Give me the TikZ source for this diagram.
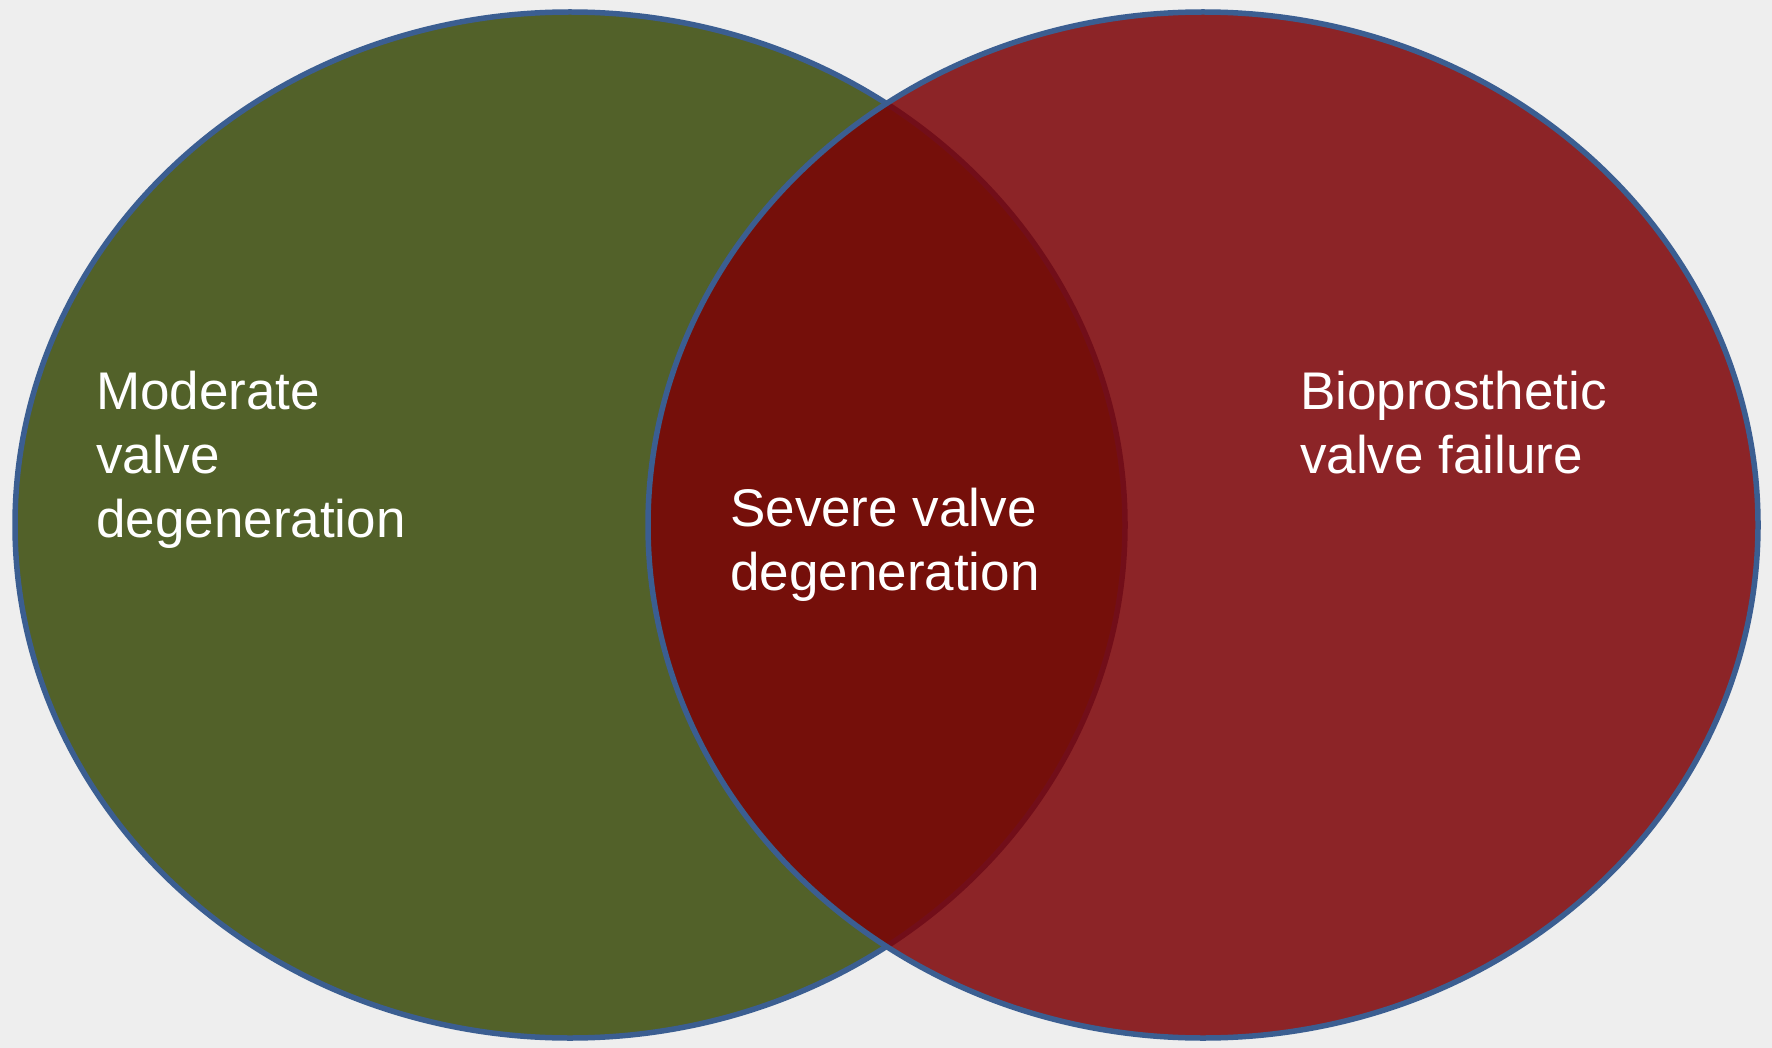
\documentclass[tikz,border=0pt]{standalone}
\usepackage{fontspec}
\setmainfont{Liberation Sans}
\usepackage{xcolor}
\usepackage{tikz}
\usetikzlibrary{positioning}
\definecolor{paper}{RGB}{238,238,238}
\definecolor{moss}{RGB}{82,97,41}
\definecolor{wine}{RGB}{124,1,5}
\definecolor{rim}{RGB}{59,94,145}
\tikzset{
	set/.style = {draw=rim, line width=5.5pt},
	left set/.style = {set, fill=moss},
	right set/.style = {set, fill=wine, fill opacity=0.85},
	label/.style = {text=white, inner sep=0pt, anchor=north west, align=left,
		font=\fontsize{53}{64}\selectfont}
}
\begin{document}
\begin{tikzpicture}[x=1pt, y=-1pt]
	
	% page and its background
	\fill[paper] (0,0) rectangle (1772,1048);
	\useasboundingbox (0,0) rectangle (1772,1048);
	
	% the two sets, the right one lies over the left one
	\draw[left set] (570,525) ellipse [x radius=555pt, y radius=513pt];
	\draw[right set] (1203,525) ellipse [x radius=555pt, y radius=513pt];
	
	% the labels of each part
	\node[label] (moderate) at (96,371) {Moderate\\valve\\degeneration};
	\node[label] (severe) at (730,488) {Severe valve\\degeneration};
	\node[label] (failure) at (1300,371) {Bioprosthetic\\valve failure};
	
\end{tikzpicture}
\end{document}
